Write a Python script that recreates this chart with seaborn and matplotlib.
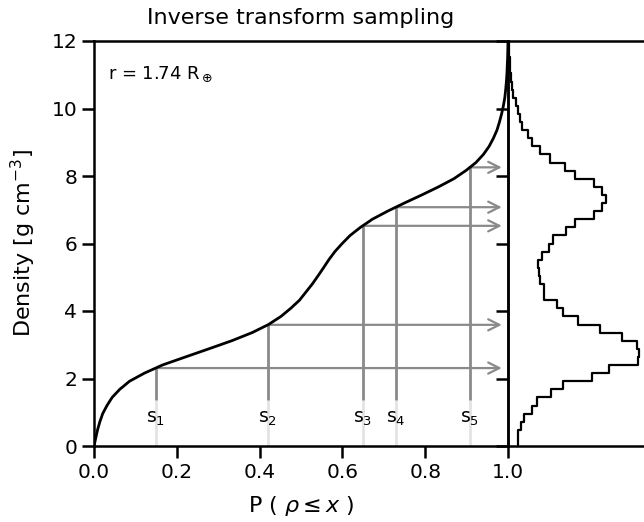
import numpy as np
import pandas as pd
import matplotlib
matplotlib.use("Agg")
import matplotlib.pyplot as plt
import seaborn as sns

# Histogram of sampled densities (50 bins over 0-12 g/cm^3)
density_min, density_max, n_bins = 0.0, 12.0, 50
bin_counts = [10, 10, 13, 16, 24, 29, 43, 55, 84, 101,
              130, 131, 129, 114, 92, 70, 55, 49, 36, 36,
              32, 31, 30, 34, 41, 45, 58, 67, 86, 94,
              98, 94, 86, 67, 57, 42, 32, 24, 20, 14,
              12, 10, 8, 5, 4, 3, 2, 2, 1, 1]

# Uniform draws pushed through the inverse CDF
sample_u = [0.149, 0.42, 0.649, 0.729, 0.908]
sample_labels = ["s$_1$", "s$_2$", "s$_3$", "s$_4$", "s$_5$"]

radius_text = r"r = 1.74 R$_\oplus$"

sns.set_style("ticks")
plt.rcParams["font.family"] = ["DejaVu Sans"]
plt.rcParams["text.color"] = "black"
plt.rcParams["axes.labelcolor"] = "black"
plt.rcParams["axes.linewidth"] = 1.8
plt.rcParams["xtick.major.width"] = 1.8
plt.rcParams["ytick.major.width"] = 1.8
plt.rcParams["xtick.major.size"] = 8.5
plt.rcParams["ytick.major.size"] = 8.5
plt.rcParams["axes.edgecolor"] = "black"
plt.rcParams["xtick.color"] = "black"
plt.rcParams["ytick.color"] = "black"

edges = np.linspace(density_min, density_max, n_bins + 1)
centers = 0.5 * (edges[:-1] + edges[1:])
counts = np.asarray(bin_counts, dtype=float)
cdf = np.concatenate([[0.0], np.cumsum(counts)]) / counts.sum()
hist_df = pd.DataFrame({"density": centers, "count": counts})

fig = plt.figure(figsize=(6.44, 5.22), dpi=100)
ax = fig.add_axes([94 / 644, 76 / 522, 414 / 644, 405 / 522])
ax_hist = fig.add_axes([508 / 644, 76 / 522, 200 / 644, 405 / 522])

# Inverse CDF curve
sns.lineplot(x=cdf, y=edges, sort=False, estimator=None, color="black",
             linewidth=2.0, ax=ax)

# Samples: vertical drop lines and arrows toward the histogram
sample_y = np.interp(sample_u, cdf, edges)
label_y = 0.8
fade_top = 1.35
for u, yv, lab in zip(sample_u, sample_y, sample_labels):
    ax.plot([u, u], [0, fade_top], color="#e3e3e3", lw=2.0, zorder=1,
            solid_capstyle="butt")
    ax.plot([u, u], [fade_top, yv], color="#8a8a8a", lw=2.0, zorder=1,
            solid_capstyle="butt")
    ax.annotate("", xy=(0.985, yv), xytext=(u, yv),
                arrowprops=dict(arrowstyle="->", color="#8a8a8a", lw=1.6,
                                mutation_scale=20, shrinkA=0, shrinkB=0),
                zorder=1)
    ax.text(u, label_y, lab, ha="center", va="center", fontsize=13.5)

ax.text(0.034, 11.0, radius_text, fontsize=13, ha="left", va="center")

ax.set_xlim(0, 1)
ax.set_ylim(0, 12)
ax.set_xticks([0.0, 0.2, 0.4, 0.6, 0.8, 1.0])
ax.set_yticks([0, 2, 4, 6, 8, 10, 12])
ax.tick_params(labelsize=14.5)
ax.set_xlabel(r"P ( $\rho \leq x$ )", fontsize=16, labelpad=9)
ax.set_ylabel(r"Density [g cm$^{-3}$]", fontsize=16, labelpad=10)
ax.set_title("Inverse transform sampling", fontsize=16, pad=12)
for side in ["top", "right", "left", "bottom"]:
    ax.spines[side].set_visible(True)

# Marginal histogram of the samples
sns.histplot(data=hist_df, y="density", weights="count", bins=n_bins,
             binrange=(density_min, density_max), element="step",
             fill=False, color="black", linewidth=1.6, ax=ax_hist)
ax_hist.set_xlim(0, 200)
ax_hist.set_ylim(0, 12)
ax_hist.set_xticks([])
ax_hist.set_yticks([0, 2, 4, 6, 8, 10, 12])
ax_hist.set_yticklabels([])
ax_hist.set_xlabel("")
ax_hist.set_ylabel("")
ax_hist.patch.set_alpha(0)
for side in ["top", "right", "left", "bottom"]:
    ax_hist.spines[side].set_visible(True)

fig.savefig("out.png", dpi=100)
